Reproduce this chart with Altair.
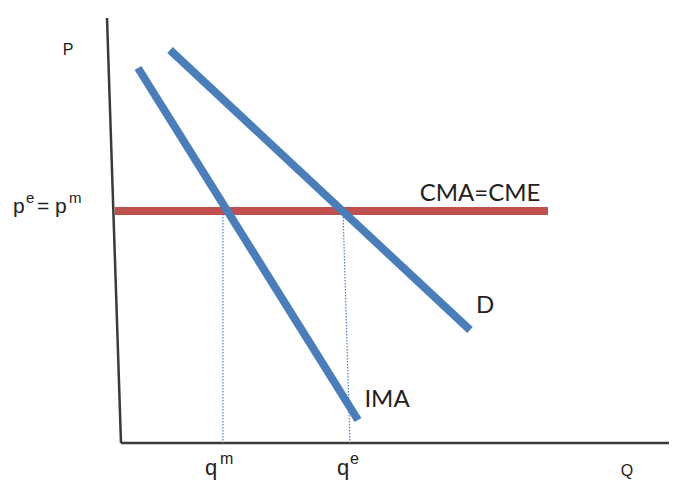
import altair as alt
import pandas as pd

# Segments of the monopoly diagram (Q on x, P on y)
seg_names = ["P axis", "Q axis", "CMA=CME", "D", "IMA", "qm guide", "qe guide"]
seg_kind = ["axis", "axis", "cost", "demand", "demand", "guide", "guide"]
q_start = [-2.8, 0.0, -1.2, 9.8, 3.4, 20.4, 44.4]
p_start = [106.25, 0.0, 58.0, 98.25, 93.75, 58.0, 58.0]
q_end = [0.0, 109.6, 85.4, 69.8, 47.4, 20.4, 45.8]
p_end = [0.0, 0.0, 58.0, 28.25, 5.75, 0.0, 0.0]

# Curve labels (centered)
curve_text = ["CMA=CME", "D", "IMA"]
curve_q = [71.8, 72.8, 53.2]
curve_p = [62.25, 34.25, 10.75]
curve_size = [24, 24, 24]

# Axis names (centered)
axis_text = ["P", "Q"]
axis_q = [-10.6, 101.2]
axis_p = [98.25, -7.0]
axis_size = [16, 16]

# Equilibrium labels, written piece by piece with superscripts (left aligned, baseline)
piece_text = ["p", "e", "=", "p", "m", "q", "m", "q", "e"]
piece_q = [-21.6, -19.0, -16.8, -13.2, -10.4, 16.8, 19.8, 43.2, 45.8]
piece_p = [57.5, 60.0, 57.5, 57.5, 60.0, -8.0, -5.25, -8.0, -5.25]
piece_size = [21, 15, 21, 21, 15, 22, 16, 22, 16]

segs = pd.DataFrame({"name": seg_names, "kind": seg_kind, "q1": q_start,
                     "p1": p_start, "q2": q_end, "p2": p_end})
curves = pd.DataFrame({"text": curve_text, "q": curve_q, "p": curve_p, "size": curve_size})
axnames = pd.DataFrame({"text": axis_text, "q": axis_q, "p": axis_p, "size": axis_size})
pieces = pd.DataFrame({"text": piece_text, "q": piece_q, "p": piece_p, "size": piece_size})

xs = alt.Scale(domain=[-22.6, 109.6], nice=False, zero=False)
ys = alt.Scale(domain=[-9.25, 108.75], nice=False, zero=False)

base = alt.Chart(segs).encode(
    x=alt.X("q1:Q", scale=xs, axis=None),
    y=alt.Y("p1:Q", scale=ys, axis=None),
    x2="q2:Q",
    y2="p2:Q",
)

axes = base.transform_filter(alt.datum.kind == "axis").mark_rule(color="#3a3a3a", strokeWidth=2.5)
guides = base.transform_filter(alt.datum.kind == "guide").mark_rule(
    color="#4f81bd", strokeWidth=1.2, strokeDash=[1.5, 1.5])
cost = base.transform_filter(alt.datum.kind == "cost").mark_rule(color="#c0504d", strokeWidth=8)
demand = base.transform_filter(alt.datum.kind == "demand").mark_rule(color="#4a7ebb", strokeWidth=8)


def text_layer(df, font, align, baseline):
    return alt.Chart(df).mark_text(font=font, color="#222222", align=align, baseline=baseline).encode(
        x=alt.X("q:Q", scale=xs, axis=None),
        y=alt.Y("p:Q", scale=ys, axis=None),
        text="text:N",
        size=alt.Size("size:Q", scale=None, legend=None),
    )


curve_labels = text_layer(curves, "Lato", "center", "middle")
axis_labels = text_layer(axnames, "Liberation Sans", "center", "middle")
eq_labels = text_layer(pieces, "Liberation Sans", "left", "alphabetic")

chart = alt.layer(axes, guides, cost, demand, curve_labels, axis_labels, eq_labels).properties(
    width=661, height=472, padding=0, autosize="none"
).configure_view(stroke=None)

chart.save("out.html", embed_options={"renderer": "svg", "actions": False})
